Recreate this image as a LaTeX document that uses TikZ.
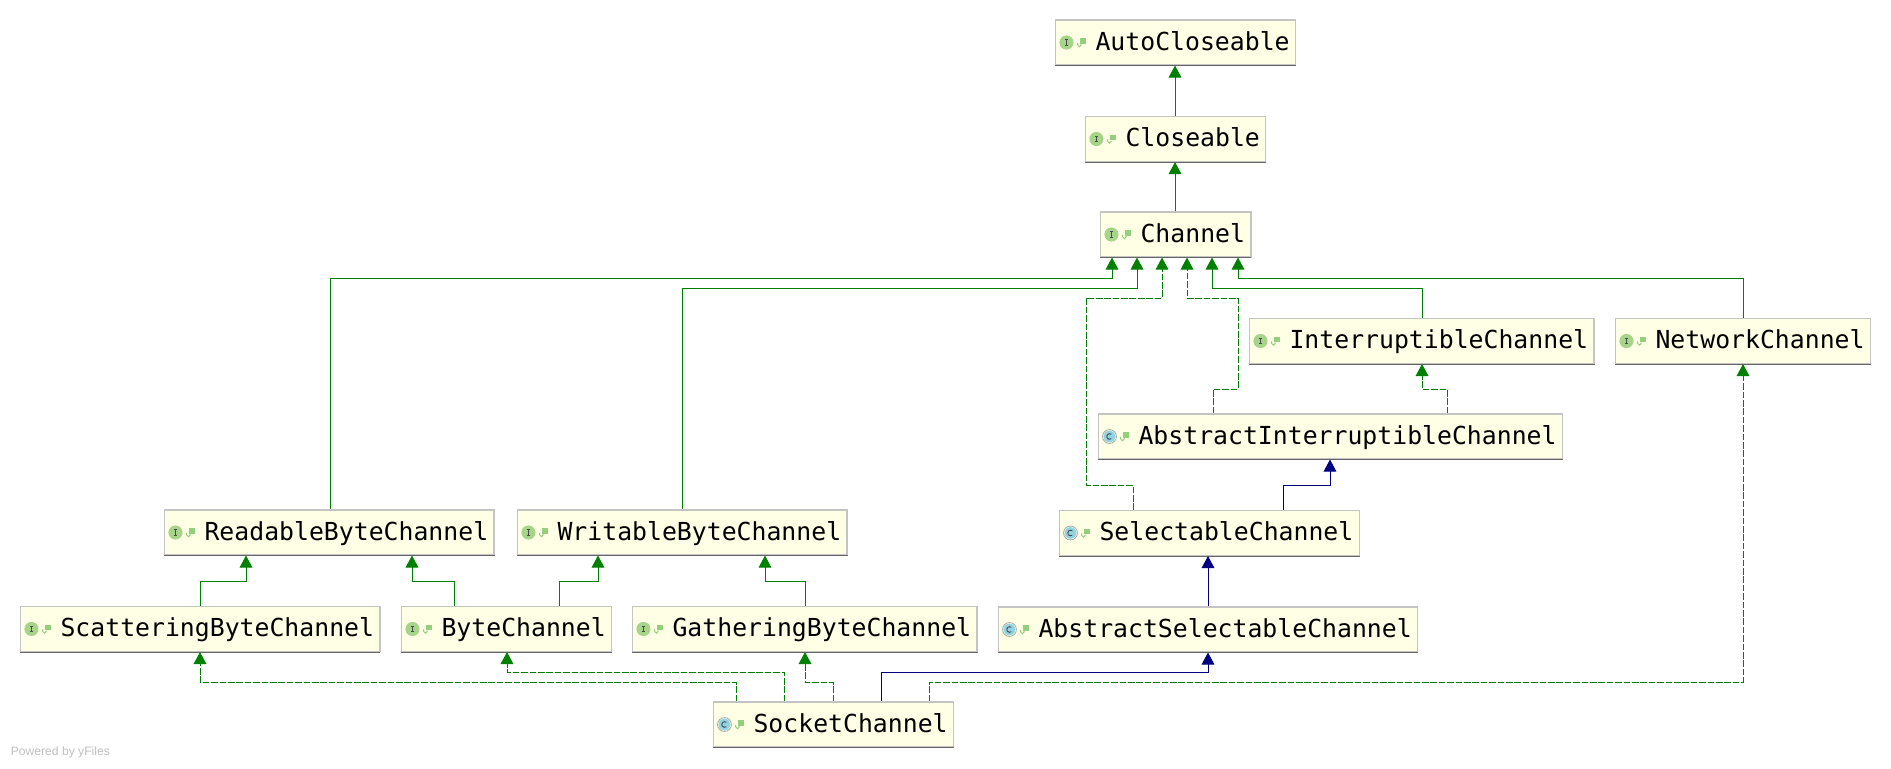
\documentclass[tikz,border=0pt]{standalone}
\usepackage{fontspec}
\setmonofont{DejaVu Sans Mono}
\setsansfont{Liberation Sans}
\usetikzlibrary{arrows.meta}
\definecolor{boxfill}{HTML}{FFFFE6}
\definecolor{boxborder}{HTML}{C4C4C4}
\definecolor{boxbottom}{HTML}{666666}
\definecolor{ifacegreen}{HTML}{A6D58A}
\definecolor{classblue}{HTML}{8FD4E2}
\definecolor{lockgreen}{HTML}{93CF7C}
\definecolor{inheritgreen}{HTML}{008000}
\definecolor{inheritblue}{HTML}{000080}
\newcommand{\lockmark}{%
  \fill[lockgreen] ([xshift=18pt,yshift=-0.8pt]path picture bounding box.west) rectangle ++(4.6pt,4pt);
  \draw[lockgreen,line width=0.75pt] ([xshift=16.6pt,yshift=-0.2pt]path picture bounding box.west) -- ++(0,-1.6pt) arc (180:360:1.3pt) -- ++(0,0.6pt);
}
\tikzset{
  classbox/.style={draw=boxborder,fill=boxfill,line width=0.9pt,anchor=west,inner xsep=0pt,inner ysep=0pt,outer sep=0.4pt,
    font=\ttfamily\fontsize{18.6}{22}\selectfont,text=black,text height=15.3pt,text depth=3.7pt,minimum height=33.75pt,
    execute at begin node=\hspace*{30pt},execute at end node=\hspace*{4.4pt},
    append after command={(\tikzlastnode.south west) edge[draw=boxbottom,line width=0.8pt] (\tikzlastnode.south east)}},
  ifacebox/.style={classbox,postaction={path picture={
    \fill[ifacegreen] ([xshift=8.2pt]path picture bounding box.west) circle (5.3pt);
    \draw[black!70,line width=0.7pt] ([xshift=7pt,yshift=-2.2pt]path picture bounding box.west) -- ++(2.4pt,0)
      ([xshift=7pt,yshift=2.2pt]path picture bounding box.west) -- ++(2.4pt,0)
      ([xshift=8.2pt,yshift=-2.2pt]path picture bounding box.west) -- ++(0,4.4pt);
    \lockmark
  }}},
  implbox/.style={classbox,postaction={path picture={
    \draw[black!35,line width=0.6pt] ([xshift=8.2pt]path picture bounding box.west) circle (5.2pt);
    \fill[classblue] ([xshift=8.2pt]path picture bounding box.west) circle (4.4pt);
    \draw[black!70,line width=0.7pt] ([xshift=9.6pt,yshift=-1.6pt]path picture bounding box.west) arc (-50:-310:2.1pt);
    \lockmark
  }}},
  extendline/.style={draw=inheritgreen,line width=0.72pt,-{Triangle[length=9pt,width=9.5pt,fill=inheritgreen]}},
  implline/.style={extendline,dash pattern=on 5pt off 1.3pt},
  classline/.style={draw=inheritblue,line width=0.72pt,-{Triangle[length=9pt,width=9.5pt,fill=inheritblue]}},
}
\begin{document}
\begin{tikzpicture}[x=0.75pt,y=0.75pt,yscale=-1,xscale=1]
\useasboundingbox (0,0) rectangle (1891,768);

% Boxes
\node[ifacebox] (autoclose) at (1055,42.5) {AutoCloseable};
\node[ifacebox] (closeable) at (1085,139) {Closeable};
\node[ifacebox] (channel) at (1100,234.5) {Channel};
\node[ifacebox] (interrupt) at (1249,341) {InterruptibleChannel};
\node[ifacebox] (network) at (1615,341) {NetworkChannel};
\node[implbox] (absinterrupt) at (1098,436.5) {AbstractInterruptibleChannel};
\node[implbox] (selectable) at (1059,533) {SelectableChannel};
\node[ifacebox] (readable) at (164,532.5) {ReadableByteChannel};
\node[ifacebox] (writable) at (517,532.5) {WritableByteChannel};
\node[implbox] (absselect) at (998,629.5) {AbstractSelectableChannel};
\node[ifacebox] (scatter) at (20,629) {ScatteringByteChannel};
\node[ifacebox] (bytechan) at (401,629) {ByteChannel};
\node[ifacebox] (gather) at (632,629) {GatheringByteChannel};
\node[implbox] (socket) at (713,724.5) {SocketChannel};

% Watermark
\node[anchor=west,inner sep=0pt,text=black!25,font=\sffamily\fontsize{9.1}{11}\selectfont] (powered) at (10.5,752) {Powered by yFiles};

% Upper chain
\draw[extendline] (closeable.north -| 1175,0) -- (autoclose.south -| 1175,0);
\draw[extendline] (channel.north -| 1175,0) -- (closeable.south -| 1175,0);

% Into Channel
\draw[extendline] (readable.north -| 330,0) |- (1112,278) -- (channel.south -| 1112,0);
\draw[extendline] (writable.north -| 682,0) |- (1137,288) -- (channel.south -| 1137,0);
\draw[implline] (selectable.north -| 1133,0) |- (1086,485) |- (1162,298) -- (channel.south -| 1162,0);
\draw[implline] (absinterrupt.north -| 1213,0) |- (1238,389) |- (1187,298) -- (channel.south -| 1187,0);
\draw[extendline] (interrupt.north -| 1422,0) |- (1212,288) -- (channel.south -| 1212,0);
\draw[extendline] (network.north -| 1743,0) |- (1238,278) -- (channel.south -| 1238,0);

% Right column
\draw[implline] (absinterrupt.north -| 1447,0) |- (1422,389) -- (interrupt.south -| 1422,0);
\draw[classline] (selectable.north -| 1283,0) |- (1330,485) -- (absinterrupt.south -| 1330,0);
\draw[classline] (absselect.north -| 1208,0) -- (selectable.south -| 1208,0);

% Byte channels
\draw[extendline] (scatter.north -| 200,0) |- (246,581) -- (readable.south -| 246,0);
\draw[extendline] (bytechan.north -| 454,0) |- (412,581) -- (readable.south -| 412,0);
\draw[extendline] (bytechan.north -| 559,0) |- (598,581) -- (writable.south -| 598,0);
\draw[extendline] (gather.north -| 805,0) |- (765,581) -- (writable.south -| 765,0);

% Out of SocketChannel
\draw[implline] (socket.north -| 736,0) |- (200,682) -- (scatter.south -| 200,0);
\draw[implline] (socket.north -| 784,0) |- (507,672) -- (bytechan.south -| 507,0);
\draw[implline] (socket.north -| 833,0) |- (805,682) -- (gather.south -| 805,0);
\draw[classline] (socket.north -| 881,0) |- (1208,672) -- (absselect.south -| 1208,0);
\draw[implline] (socket.north -| 929,0) |- (1743,682) -- (network.south -| 1743,0);

\end{tikzpicture}
\end{document}
